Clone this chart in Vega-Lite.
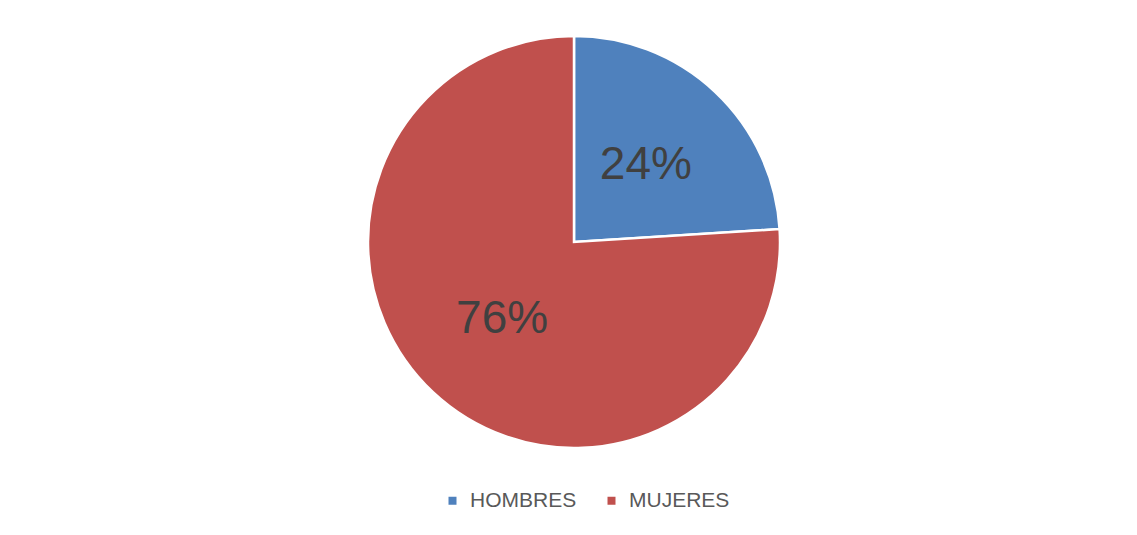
{
  "$schema": "https://vega.github.io/schema/vega-lite/v6.json",
  "autosize": {"type": "none"},
  "width": 1126,
  "height": 472,
  "padding": {"left": 11, "top": 6, "right": 0, "bottom": 57},
  "background": "white",
  "config": {"view": {"stroke": null}, "font": "Liberation Sans"},
  "data": {"values": [
    {"sexo": "HOMBRES", "pct": 0.24},
    {"sexo": "MUJERES", "pct": 0.76}
  ]},
  "encoding": {
    "theta": {"field": "pct", "type": "quantitative", "stack": true},
    "order": {"field": "sexo", "sort": "ascending"}
  },
  "layer": [
    {
      "mark": {"type": "arc", "outerRadius": 206, "stroke": "white", "strokeWidth": 2.5},
      "encoding": {
        "color": {
          "field": "sexo", "type": "nominal",
          "scale": {"domain": ["HOMBRES", "MUJERES"], "range": ["#4F81BD", "#C0504D"]},
          "legend": {
            "title": null, "orient": "none", "legendX": 431, "legendY": 484, "direction": "horizontal",
            "symbolType": "square", "symbolSize": 64, "symbolStrokeWidth": 0,
            "labelFont": "Liberation Sans", "labelFontSize": 21, "labelColor": "#595959",
            "columnPadding": 24, "labelOffset": 7
          }
        }
      }
    },
    {
      "mark": {"type": "text", "radius": 105, "font": "Liberation Sans", "fontSize": 46, "color": "#404040", "baseline": "middle", "align": "center"},
      "encoding": {
        "text": {"field": "pct", "type": "quantitative", "format": ".0%"}
      }
    }
  ]
}
